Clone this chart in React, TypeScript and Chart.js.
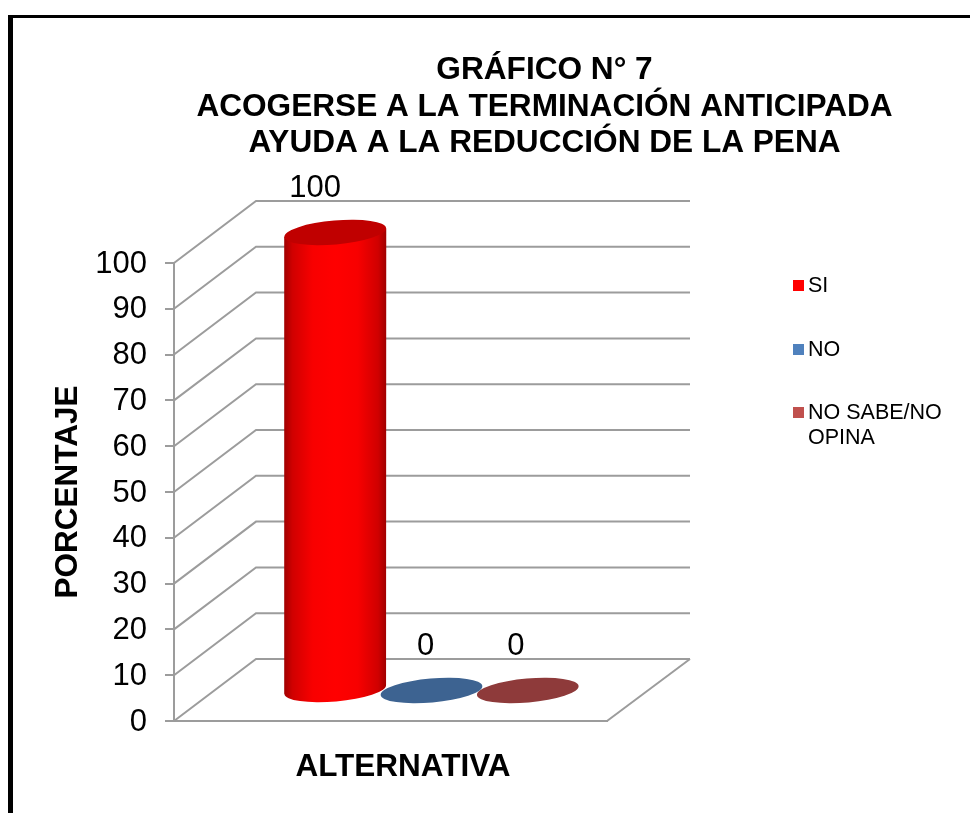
import React, { useEffect, useRef } from "react";
import { Chart, registerables } from "chart.js";

Chart.register(...registerables);

const categories = ["ALTERNATIVA"];
const seriesNames = ["SI", "NO", "NO SABE/NO OPINA"];
const seriesValues = [[100], [0], [0]];
const legendColors = ["#ff0000", "#4f81bd", "#c0504d"];
const capColors = ["#c00000", "#3d6391", "#8e3a3a"];
const legendLines = [["SI"], ["NO"], ["NO SABE/NO", "OPINA"]];
const titleLines = [
  "GRÁFICO N° 7",
  "ACOGERSE A LA TERMINACIÓN ANTICIPADA",
  "AYUDA A LA REDUCCIÓN DE LA PENA",
];

const FONT = "'Liberation Sans', Arial, sans-serif";
const GRID = "#9c9c9c";
const DEPTH_X = 82;
const DEPTH_Y = 62;
const BAR_LIFT = 30.5;
const TILT = -0.087;
const labelShift = [-20, -6, -12];
const legendY = [285, 349, 412];

const threeD = {
  id: "threeD",
  beforeDraw(chart: any) {
    const { ctx } = chart;
    ctx.save();
    ctx.fillStyle = "#000";
    ctx.fillRect(8, 15, 5, 798);
    ctx.fillRect(8, 15, 962, 3);
    ctx.restore();
  },
  afterLayout(chart: any) {
    chart.titleBlock.left = 119;
    chart.titleBlock.right = 970;
    const xs = chart.scales.x;
    if (!xs.__wrapped) {
      const orig = xs.drawTitle;
      xs.drawTitle = function (...a: any[]) {
        chart.ctx.save();
        chart.ctx.translate(12.5, 0);
        orig.apply(this, a);
        chart.ctx.restore();
      };
      xs.__wrapped = true;
    }
  },
  beforeDatasetsDraw(chart: any) {
    const { ctx, chartArea: a, scales } = chart;
    ctx.save();
    ctx.strokeStyle = GRID;
    ctx.lineWidth = 2;
    ctx.lineJoin = "miter";
    scales.y.ticks.forEach((_: any, i: number) => {
      const y = scales.y.getPixelForTick(i);
      ctx.beginPath();
      ctx.moveTo(a.left, y);
      ctx.lineTo(a.left + DEPTH_X, y - DEPTH_Y);
      ctx.lineTo(a.right + DEPTH_X + 1, y - DEPTH_Y);
      ctx.stroke();
    });
    ctx.beginPath();
    ctx.moveTo(a.right, a.bottom);
    ctx.lineTo(a.right + DEPTH_X + 1, a.bottom - DEPTH_Y);
    ctx.stroke();
    ctx.restore();
  },
  beforeDatasetDraw(chart: any, args: any) {
    const { ctx } = chart;
    const i = args.index;
    const bar = args.meta.data[0];
    const cx = bar.x + DEPTH_X / 2;
    const top = bar.y - BAR_LIFT;
    const base = bar.base - BAR_LIFT;
    const rx = (bar.width * 1.06) / 2;
    const ry = 12;
    const dy = ((rx * rx - ry * ry) * Math.sin(-TILT) * Math.cos(TILT)) / rx;
    ctx.save();
    if (base - top > 1) {
      const g = ctx.createLinearGradient(cx - rx, 0, cx + rx, 0);
      g.addColorStop(0, "#a00000");
      g.addColorStop(0.08, "#d00000");
      g.addColorStop(0.28, "#f80000");
      g.addColorStop(0.5, "#ff0000");
      g.addColorStop(0.72, "#f80000");
      g.addColorStop(0.92, "#d00000");
      g.addColorStop(1, "#a00000");
      ctx.fillStyle = g;
      ctx.beginPath();
      ctx.moveTo(cx - rx, top + dy);
      ctx.lineTo(cx - rx, base + dy);
      ctx.ellipse(cx, base, rx, ry, TILT, Math.PI, 0, true);
      ctx.lineTo(cx + rx, top - dy);
      ctx.closePath();
      ctx.fill();
    }
    ctx.fillStyle = capColors[i];
    ctx.beginPath();
    ctx.ellipse(cx, top, rx, ry, TILT, 0, Math.PI * 2);
    ctx.fill();
    ctx.restore();
    return false;
  },
  afterDraw(chart: any) {
    const { ctx } = chart;
    ctx.save();
    // value labels
    ctx.fillStyle = "#000";
    ctx.textAlign = "center";
    ctx.textBaseline = "middle";
    ctx.font = `31px ${FONT}`;
    chart.data.datasets.forEach((ds: any, i: number) => {
      const bar = chart.getDatasetMeta(i).data[0];
      const cx = bar.x + DEPTH_X / 2 + labelShift[i];
      const y = bar.y - DEPTH_Y / 2 - 44;
      ctx.fillText(String(ds.data[0]), cx, y);
    });
    // legend
    ctx.textAlign = "left";
    ctx.font = `21.5px ${FONT}`;
    legendLines.forEach((lines, i) => {
      ctx.fillStyle = legendColors[i];
      ctx.fillRect(793, legendY[i] - 5, 11, 11);
      ctx.fillStyle = "#000";
      lines.forEach((t, j) => ctx.fillText(t, 808, legendY[i] + 1 + j * 25));
    });
    ctx.restore();
  },
};

export default function App() {
  const ref = useRef<HTMLCanvasElement>(null);
  useEffect(() => {
    const chart = new Chart(ref.current as any, {
      type: "bar",
      data: {
        labels: categories,
        datasets: seriesNames.map((label, i) => ({
          label,
          data: seriesValues[i],
          backgroundColor: legendColors[i],
          categoryPercentage: 0.667,
          barPercentage: 1,
        })),
      },
      options: {
        animation: false,
        responsive: false,
        layout: { padding: { left: 0, right: 363, top: 0, bottom: 0 } },
        plugins: {
          legend: { display: false },
          tooltip: { enabled: false },
          title: {
            display: true,
            text: titleLines,
            color: "#000",
            font: { family: FONT, size: 31.6, weight: "bold", lineHeight: 1.16 },
            padding: { top: 52, bottom: 101 },
          },
        },
        scales: {
          x: {
            grid: { display: false },
            border: { display: true, color: GRID, width: 2 },
            ticks: { display: false },
            afterFit: (s: any) => {
              s.height = 92;
            },
            title: {
              display: true,
              text: "ALTERNATIVA",
              color: "#000",
              font: { family: FONT, size: 31.5, weight: "bold" },
              padding: { top: 0, bottom: 27 },
            },
          },
          y: {
            min: 0,
            max: 100,
            afterFit: (s: any) => {
              s.width = 174;
            },
            grid: { drawOnChartArea: false, drawTicks: true, tickLength: 9, color: GRID, lineWidth: 2 },
            border: { display: true, color: GRID, width: 2 },
            ticks: {
              stepSize: 10,
              color: "#000",
              padding: 18,
              labelOffset: 1,
              font: { family: FONT, size: 31 },
            },
            title: {
              display: true,
              text: "PORCENTAJE",
              color: "#000",
              font: { family: FONT, size: 31.5, weight: "bold" },
              padding: { top: 49, bottom: 0 },
            },
          },
        },
      },
      plugins: [threeD],
    } as any);
    return () => chart.destroy();
  }, []);
  return (
    <canvas
      ref={ref}
      width={970}
      height={813}
      style={{ position: "absolute", left: 0, top: 0, display: "block" }}
    />
  );
}
